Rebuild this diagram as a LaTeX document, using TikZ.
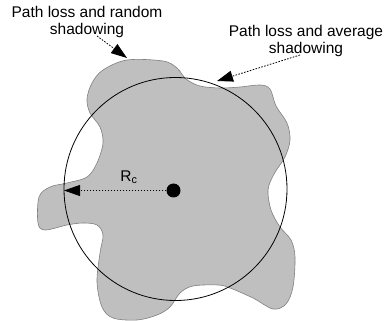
\documentclass[tikz,border=0pt]{standalone}
\usepackage{fontspec}
\setmainfont{Liberation Sans}
\usepackage{tikz}
\usetikzlibrary{positioning,arrows.meta,calc}

\begin{document}
\begin{tikzpicture}[
  x=1pt, y=-1pt,
  caption/.style={align=center, font=\fontsize{15.5}{16.5}\selectfont, inner sep=0pt},
  pointer/.style={-{Triangle[length=16pt, width=11pt]}, line width=0.8pt, dash pattern=on 1.6pt off 1.4pt},
  shadow/.style={fill=black!25, draw=black!50, line width=0.6pt}
]
  \useasboundingbox (0,0) rectangle (389,321);

  % coverage area with random shadowing
  \draw[shadow] plot[smooth cycle, tension=0.55] coordinates {
    (127,60) (163,61) (177,68) (186,79) (200,86) (220,88) (240,87) (260,85)
    (270,89) (276,106) (287,123) (290,140) (285,157) (274,174) (268,190)
    (271,210) (280,227) (291,240) (295,257) (293,287) (286,304) (273,309)
    (253,298) (230,288) (218,285) (193,286) (180,293) (170,307) (157,315)
    (137,320) (113,318) (102,307) (97,282) (100,253) (103,235) (97,225)
    (83,223) (67,225) (45,230) (38,223) (39,197) (50,187) (67,183) (87,177)
    (97,163) (103,143) (100,127) (90,113) (87,99) (92,83) (103,70)};

  % average shadowing cell
  \draw[line width=0.8pt] (175.5,189) circle[radius=111.5];

  \node[circle, fill=black, minimum size=14pt, inner sep=0pt] (bs) at (173.5,190.5) {};
  \coordinate (rim) at (64,190.5);
  \draw[pointer] (bs) -- (rim);
  \node[font=\fontsize{15.5}{16.5}\selectfont] (rc) at (129,177) {R\textsubscript{c}};

  \node[caption] (random) at (87,22) {Path loss and random\\shadowing};
  \node[caption] (average) at (306,41) {Path loss and average\\shadowing};

  \coordinate (randomtail) at (97,36);
  \coordinate (randomtip) at (127,58);
  \coordinate (averagetail) at (300,55);
  \coordinate (averagetip) at (217,81);
  \draw[pointer] (randomtail) -- (randomtip);
  \draw[pointer] (averagetail) -- (averagetip);
\end{tikzpicture}
\end{document}
